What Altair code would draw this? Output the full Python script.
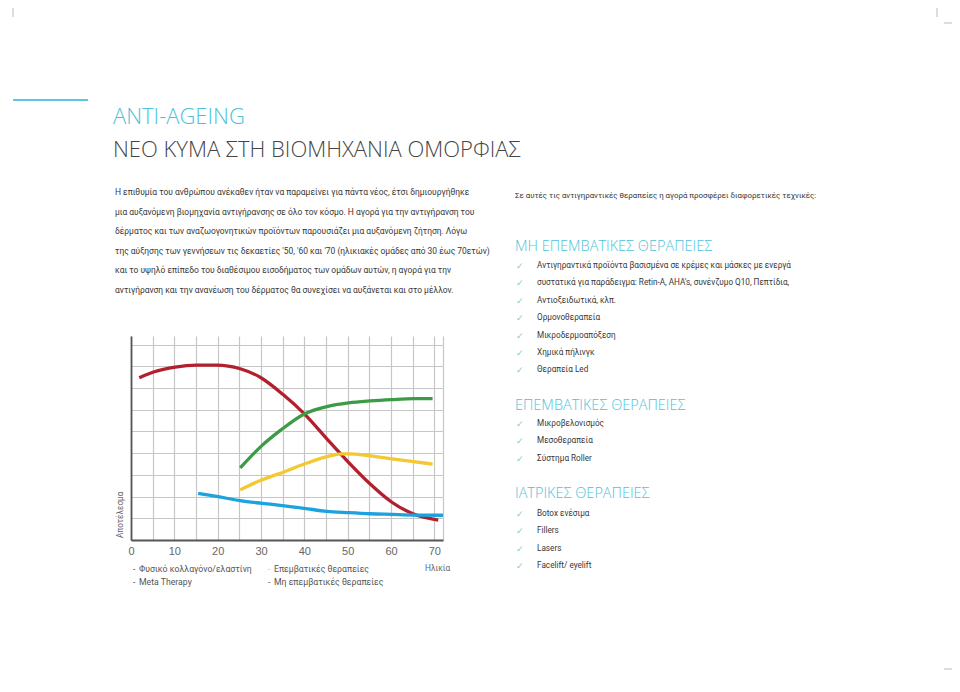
import altair as alt
import pandas as pd

# ---------------- chart data ----------------
series_names = ["Φυσικό κολλαγόνο/ελαστίνη", "Επεμβατικές θεραπείες",
                "Μη επεμβατικές θεραπείες", "Meta Therapy"]
series_colors = ["#b3202d", "#3c9b44", "#f4c832", "#1ca2de"]

red_x = [1.9, 5.2, 10.2, 15.2, 19.8, 25.2, 29.8, 35.1, 40.0, 45.2, 50.2, 55.2, 60.2, 65.2, 70.9]
red_y = [7.48, 7.74, 7.97, 8.06, 8.06, 7.89, 7.50, 6.70, 5.81, 4.66, 3.58, 2.58, 1.74, 1.20, 0.92]

green_x = [25.2, 30.2, 34.4, 40.0, 45.2, 50.2, 55.2, 60.2, 65.2, 69.6]
green_y = [3.32, 4.35, 5.04, 5.81, 6.15, 6.32, 6.41, 6.47, 6.51, 6.51]

yellow_x = [25.2, 30.2, 34.4, 40.0, 45.2, 48.6, 50.2, 55.2, 60.2, 65.2, 69.6]
yellow_y = [2.31, 2.77, 3.07, 3.50, 3.84, 3.97, 3.97, 3.88, 3.74, 3.61, 3.50]

blue_x = [15.5, 19.8, 25.2, 30.2, 34.4, 40.0, 45.2, 50.2, 55.2, 60.2, 65.2, 72.0]
blue_y = [2.15, 2.01, 1.81, 1.69, 1.60, 1.46, 1.32, 1.26, 1.21, 1.18, 1.15, 1.14]

x_grid_values = [0, 5, 10, 15, 20, 25, 30, 35, 40, 45, 50, 55, 60, 65, 70, 72]
y_grid_values = [1, 2, 3, 4, 5, 6, 7, 8, 9]

# ---------------- text content ----------------
title_1 = "ANTI-AGEING"
title_2 = "ΝΕΟ ΚΥΜΑ ΣΤΗ ΒΙΟΜΗΧΑΝΙΑ ΟΜΟΡΦΙΑΣ"
paragraph = [
    "Η επιθυμία του ανθρώπου ανέκαθεν ήταν να παραμείνει για πάντα νέος, έτσι δημιουργήθηκε",
    "μια αυξανόμενη βιομηχανία αντιγήρανσης σε όλο τον κόσμο. Η αγορά για την αντιγήρανση του",
    "δέρματος  και των  αναζωογονητικών  προϊόντων   παρουσιάζει  μια αυξανόμενη ζήτηση. Λόγω",
    "της αύξησης των γεννήσεων τις δεκαετίες '50, '60 και '70  (ηλικιακές ομάδες  από 30 έως 70ετών)",
    "και το υψηλό επίπεδο του διαθέσιμου εισοδήματος  των ομάδων αυτών, η αγορά για την",
    "αντιγήρανση  και  την  ανανέωση  του  δέρματος   θα  συνεχίσει  να αυξάνεται και στο μέλλον.",
]
intro_right = "Σε αυτές τις αντιγηραντικές θεραπείες η αγορά προσφέρει διαφορετικές τεχνικές:"
heading_1 = "ΜΗ ΕΠΕΜΒΑΤΙΚΕΣ ΘΕΡΑΠΕΙΕΣ"
items_1 = [
    "Αντιγηραντικά προϊόντα βασισμένα σε κρέμες και μάσκες με ενεργά",
    "συστατικά για παράδειγμα:  Retin-A, AHA's, συνένζυμο  Q10, Πεπτίδια,",
    "Αντιοξειδωτικά, κλπ.",
    "Ορμονοθεραπεία",
    "Μικροδερμοαπόξεση",
    "Χημικά πήλινγκ",
    "Θεραπεία Led",
]
heading_2 = "ΕΠΕΜΒΑΤΙΚΕΣ ΘΕΡΑΠΕΙΕΣ"
items_2 = ["Μικροβελονισμός", "Μεσοθεραπεία", "Σύστημα Roller"]
heading_3 = "ΙΑΤΡΙΚΕΣ ΘΕΡΑΠΕΙΕΣ"
items_3 = ["Botox ενέσιμα", "Fillers", "Lasers", "Facelift/ eyelift"]
y_title = "Αποτέλεσμα"
x_title = "Ηλικία"
legend_left = ["Φυσικό κολλαγόνο/ελαστίνη", "Meta Therapy"]
legend_mid = ["Επεμβατικές θεραπείες", "Μη επεμβατικές θεραπείες"]

# ---------------- layout ----------------
PX0, PY0 = 131, 336          # page position of the plot origin (top-left)
W, H = 312, 204              # plot area
SVG_W, SVG_H = 944, 668

BODY = "Roboto, Liberation Sans, sans-serif"
LIGHT = "Open Sans, Lato, sans-serif"
TXT = "#383838"
CYAN = "#4ec2d8"


def rel_x(px):
    return px - PX0


def rel_y(py):
    return py - PY0


rows = []
for name, xs, ys in [(series_names[0], red_x, red_y), (series_names[1], green_x, green_y),
                     (series_names[2], yellow_x, yellow_y), (series_names[3], blue_x, blue_y)]:
    for a, b in zip(xs, ys):
        rows.append({"series": name, "age": a, "val": b})
df = pd.DataFrame(rows)

lines = alt.Chart(df).mark_line(strokeWidth=3.3, interpolate="monotone", strokeCap="butt").encode(
    x=alt.X("age:Q", scale=alt.Scale(domain=[0, 72], nice=False, zero=False),
            axis=alt.Axis(values=x_grid_values, title=None, grid=True, gridColor="#c6c6c6",
                          gridWidth=1.2, ticks=False, domainColor="#555555", domainWidth=1.8,
                          labelExpr="datum.value % 10 == 0 && datum.value <= 70 ? datum.label : ''",
                          labelFont="Liberation Sans", labelFontSize=11, labelColor="#666666",
                          labelPadding=5, labelFlush=False, labelOverlap=False)),
    y=alt.Y("val:Q", scale=alt.Scale(domain=[0, 9.4], nice=False),
            axis=alt.Axis(values=y_grid_values, title=None, grid=True, gridColor="#c6c6c6",
                          gridWidth=1.2, ticks=False, labels=False, domainColor="#555555",
                          domainWidth=1.8)),
    color=alt.Color("series:N", scale=alt.Scale(domain=series_names, range=series_colors), legend=None),
)


def text_layer(texts, xs, ys, **kw):
    d = pd.DataFrame({"t": texts, "px": [rel_x(v) for v in xs], "py": [rel_y(v) for v in ys]})
    opts = dict(align="left", baseline="middle")
    opts.update(kw)
    return alt.Chart(d).mark_text(**opts).encode(
        x=alt.X("px:Q", scale=None, axis=None),
        y=alt.Y("py:Q", scale=None, axis=None),
        text="t:N",
    )


layers = [lines]

# titles
layers.append(text_layer([title_1], [113], [124], baseline="alphabetic", font=LIGHT,
                         fontWeight=300, fontSize=22, color=CYAN))
layers.append(text_layer([title_2], [113], [157], baseline="alphabetic", font=LIGHT,
                         fontWeight=300, fontSize=22, color="#454545"))

# left paragraph
par_y = [192 + 19.5 * i for i in range(len(paragraph))]
layers.append(text_layer(paragraph, [115] * len(paragraph), par_y, font=BODY,
                         fontSize=8.45, color=TXT))

# right column
layers.append(text_layer([intro_right], [515], [196], font=BODY, fontSize=7.9, color=TXT))
head_y = [247, 406, 494]
layers.append(text_layer([heading_1, heading_2, heading_3], [515] * 3, head_y, font=LIGHT,
                         fontWeight=300, fontSize=14.5, color=CYAN))

item_texts, item_y = [], []
for start, items in [(266, items_1), (424, items_2), (514, items_3)]:
    for i, t in enumerate(items):
        item_texts.append(t)
        item_y.append(start + 17.4 * i)
layers.append(text_layer(item_texts, [537] * len(item_texts), item_y, font=BODY,
                         fontSize=8.2, color=TXT))
layers.append(text_layer(["✓"] * len(item_texts), [516] * len(item_texts), item_y,
                         font="DejaVu Sans", fontSize=9, color="#8ecab4"))

# axis titles
layers.append(text_layer([y_title], [121], [538], angle=270, font=BODY, fontSize=8.2,
                         color="#666666"))
layers.append(text_layer([x_title], [425], [569], font=BODY, fontSize=8.3, color="#666666"))

# legend
layers.append(text_layer(legend_left, [139, 139], [569, 582], font=BODY, fontSize=8.7, color="#555555"))
layers.append(text_layer(legend_mid, [274, 274], [569, 582], font=BODY, fontSize=8.7, color="#555555"))
layers.append(text_layer(["-", "-", "-"], [133, 133, 268], [569, 582, 582],
                         font=BODY, fontSize=9, color="#555555"))
layers.append(text_layer(["-"], [268], [569], font=BODY, fontSize=9, color="#f4c832"))

# decorative cyan line
layers.append(alt.Chart(pd.DataFrame({"k": [0]})).mark_rule(color="#5ec6dd", strokeWidth=2).encode(
    x=alt.value(rel_x(13)), x2=alt.value(rel_x(88)), y=alt.value(rel_y(100))))

# crop marks
def rule(x1, y1, x2, y2):
    return alt.Chart(pd.DataFrame({"k": [0]})).mark_rule(color="#bbbbbb", strokeWidth=1).encode(
        x=alt.value(rel_x(x1)), x2=alt.value(rel_x(x2)), y=alt.value(rel_y(y1)), y2=alt.value(rel_y(y2)))

layers += [rule(13, 8, 13, 17), rule(937, 8, 937, 17), rule(944, 23, 952, 23),
           rule(944, 669, 952, 669)]

chart = alt.layer(*layers).resolve_scale(x="independent", y="independent").properties(
    width=W, height=H,
    autosize=alt.AutoSizeParams(type="none"),
    padding={"left": PX0 - 8, "top": PY0 - 8, "right": SVG_W - (PX0 - 8) - W,
             "bottom": SVG_H - (PY0 - 8) - H},
    background="white",
).configure_view(stroke=None)

chart.save("out.html", embed_options={"renderer": "svg", "actions": False})
